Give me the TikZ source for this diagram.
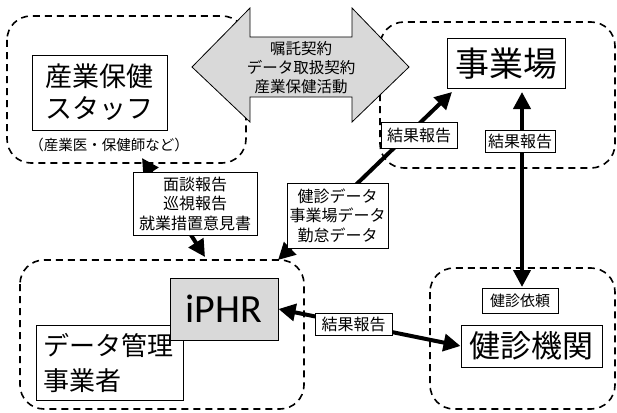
\documentclass[tikz,border=0pt]{standalone}
\usepackage{fontspec}
\setmainfont{Noto Sans CJK JP}
\newfontfamily\latfont{Carlito}
\usetikzlibrary{arrows.meta}
\definecolor{boxgray}{HTML}{D9D9D9}
\tikzset{
  group/.style={draw, line width=1.6pt, dash pattern=on 7pt off 5pt, rounded corners=24pt},
  bigbox/.style={draw, line width=1pt, fill=white, inner sep=0pt},
  lab/.style={draw, line width=0.9pt, fill=white, inner sep=0pt, align=center,
    font=\fontsize{16}{19.5}\selectfont},
  arr/.style={line width=4pt, {Triangle[length=17pt,width=17pt]}-{Triangle[length=17pt,width=17pt]}},
}
\begin{document}
\begin{tikzpicture}[x=1pt,y=-1pt]
\useasboundingbox (0,0) rectangle (617,412);
% groups
\draw[group] (7,16) rectangle (246,163);
\draw[group] (380,22) rectangle (615,168);
\draw[group] (20,260) rectangle (304,409);
\draw[group] (430,268) rectangle (615,409);
% big double arrow
\draw[line width=0.8pt, fill=boxgray]
  (192,67) -- (250,8) -- (250,37) -- (352,37) -- (352,8) -- (409,67)
  -- (352,122) -- (352,97) -- (250,97) -- (250,122) -- cycle;
\node[align=center, font=\fontsize{15.5}{19}\selectfont] (contract) at (301,68)
  {嘱託契約\\データ取扱契約\\産業保健活動};
% main boxes
\node[bigbox, minimum width=135pt, minimum height=75pt, align=center,
  font=\fontsize{27}{32}\selectfont] (staff) at (99.5,92.5) {産業保健\\スタッフ};
\node[font=\fontsize{14.5}{16}\selectfont] (staffnote) at (109,145) {（産業医・保健師など）};
\node[bigbox, minimum width=118pt, minimum height=49pt,
  font=\fontsize{34}{36}\selectfont] (jigyo) at (506,63.5) {事業場};
\node[bigbox, minimum width=147pt, minimum height=75pt, align=left,
  font=\fontsize{26}{35}\selectfont, text width=133pt] (datamgr) at (109.5,362.5) {データ管理\\事業者};
\node[bigbox, fill=boxgray, minimum width=108pt, minimum height=62pt,
  font=\latfont\fontsize{40}{44}\selectfont] (iphr) at (224,309) {iPHR};
\node[bigbox, minimum width=141pt, minimum height=42pt,
  font=\fontsize{31}{34}\selectfont] (kenshin) at (531.5,346) {健診機関};
% coordinates of arrow ends
\coordinate (a1s) at (142,158);
\coordinate (a1e) at (205,257);
\coordinate (a2s) at (278,260);
\coordinate (a2e) at (452,92);
\coordinate (a3s) at (522,92);
\coordinate (a3e) at (522,287);
% arrows
\draw[arr] (a1s) -- (a1e);
\draw[arr] (a2s) -- (a2e);
\draw[arr] (a3s) -- (a3e);
\draw[arr] (iphr.east) -- (kenshin.west);
% labels
\node[lab, minimum width=124pt, minimum height=63pt] (mendan) at (195,203.5)
  {面談報告\\巡視報告\\就業措置意見書};
\node[lab, minimum width=101pt, minimum height=65pt] (kdata) at (337.5,215.5)
  {健診データ\\事業場データ\\勤怠データ};
\node[lab, minimum width=76pt, minimum height=26pt] (res1) at (419,135) {結果報告};
\node[lab, minimum width=70pt, minimum height=22pt] (res2) at (520,141) {結果報告};
\node[lab, minimum width=77pt, minimum height=22pt] (res3) at (353.5,324) {結果報告};
\node[lab, minimum width=76pt, minimum height=25pt, font=\fontsize{15}{17}\selectfont] (irai) at (520,300.5) {健診依頼};
\end{tikzpicture}
\end{document}
